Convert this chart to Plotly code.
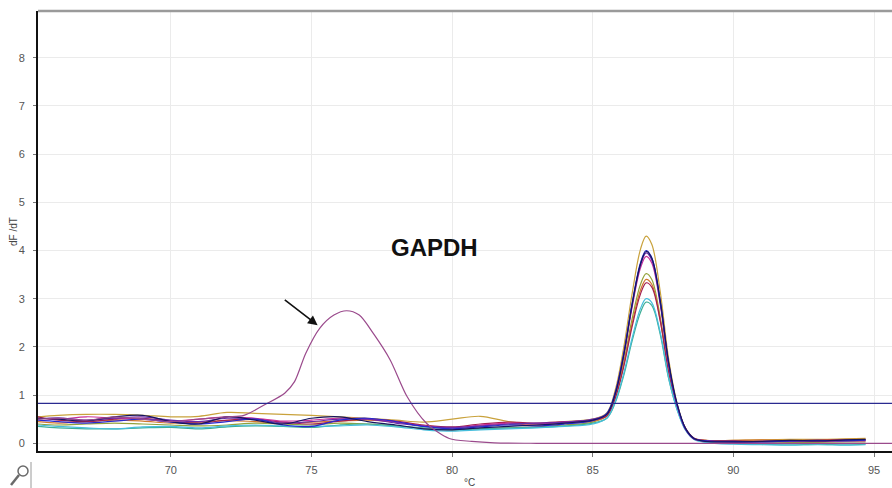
import plotly.graph_objects as go

# Melt-curve derivative data (dF/dT vs temperature, °C)
temps = [65.28, 66, 67, 68, 69, 70, 71, 72, 73, 74, 75, 76, 77, 78, 79, 80, 81, 82, 83, 84, 85,
         85.5, 85.8, 86.1, 86.4, 86.7, 86.9, 87.1, 87.4, 87.7, 88.0, 88.3, 88.6, 89.0,
         90, 91, 92, 93, 94, 94.7]

gold = [0.55, 0.58, 0.60, 0.60, 0.58, 0.55, 0.56, 0.64, 0.62, 0.60, 0.58, 0.55, 0.52, 0.48, 0.44, 0.50, 0.56, 0.45, 0.40, 0.45, 0.50,
        0.63, 1.10, 1.98, 3.10, 4.03, 4.30, 4.13, 3.15, 1.75, 0.83, 0.31, 0.10, 0.06,
        0.06, 0.07, 0.08, 0.08, 0.09, 0.10]
blue = [0.48, 0.45, 0.42, 0.46, 0.50, 0.44, 0.40, 0.45, 0.50, 0.38, 0.35, 0.48, 0.52, 0.45, 0.35, 0.30, 0.34, 0.38, 0.36, 0.40, 0.47,
        0.62, 1.05, 1.85, 2.90, 3.75, 4.00, 3.85, 2.95, 1.65, 0.80, 0.30, 0.10, 0.05,
        0.04, 0.03, 0.05, 0.06, 0.05, 0.07]
navy = [0.52, 0.50, 0.47, 0.55, 0.58, 0.45, 0.40, 0.55, 0.48, 0.40, 0.52, 0.55, 0.45, 0.38, 0.30, 0.28, 0.32, 0.35, 0.38, 0.42, 0.48,
        0.60, 1.02, 1.82, 2.88, 3.72, 3.98, 3.84, 2.96, 1.68, 0.82, 0.31, 0.10, 0.04,
        0.03, 0.04, 0.06, 0.05, 0.07, 0.08]
violet = [0.50, 0.53, 0.48, 0.52, 0.55, 0.48, 0.45, 0.52, 0.50, 0.42, 0.45, 0.50, 0.50, 0.42, 0.35, 0.33, 0.36, 0.40, 0.42, 0.44, 0.50,
          0.61, 1.04, 1.84, 2.86, 3.70, 3.95, 3.80, 2.92, 1.64, 0.79, 0.29, 0.09, 0.05,
          0.02, 0.03, 0.04, 0.05, 0.06, 0.06]
olive = [0.40, 0.38, 0.40, 0.42, 0.40, 0.38, 0.36, 0.38, 0.42, 0.40, 0.38, 0.42, 0.40, 0.36, 0.30, 0.28, 0.30, 0.32, 0.34, 0.38, 0.44,
         0.58, 0.98, 1.68, 2.58, 3.30, 3.52, 3.40, 2.62, 1.50, 0.75, 0.29, 0.09, 0.05,
         0.04, 0.03, 0.02, 0.02, 0.03, 0.03]
orange = [0.45, 0.42, 0.45, 0.48, 0.46, 0.42, 0.44, 0.47, 0.45, 0.42, 0.44, 0.46, 0.48, 0.44, 0.36, 0.30, 0.36, 0.40, 0.38, 0.42, 0.46,
          0.56, 0.94, 1.62, 2.48, 3.18, 3.40, 3.30, 2.56, 1.48, 0.76, 0.30, 0.10, 0.06,
          0.06, 0.07, 0.06, 0.07, 0.08, 0.08]
maroon = [0.55, 0.48, 0.45, 0.50, 0.52, 0.46, 0.42, 0.48, 0.50, 0.44, 0.40, 0.46, 0.50, 0.46, 0.38, 0.34, 0.40, 0.44, 0.42, 0.45, 0.48,
          0.57, 0.93, 1.58, 2.42, 3.10, 3.33, 3.24, 2.54, 1.48, 0.77, 0.31, 0.11, 0.06,
          0.05, 0.04, 0.05, 0.06, 0.07, 0.07]
teal = [0.35, 0.32, 0.30, 0.30, 0.32, 0.33, 0.30, 0.34, 0.36, 0.35, 0.33, 0.38, 0.40, 0.36, 0.32, 0.28, 0.30, 0.32, 0.33, 0.36, 0.42,
        0.52, 0.84, 1.40, 2.12, 2.72, 2.93, 2.86, 2.26, 1.34, 0.70, 0.28, 0.09, 0.03,
        0.00, -0.02, -0.03, -0.02, -0.03, -0.02]
cyan = [0.38, 0.35, 0.32, 0.30, 0.34, 0.35, 0.32, 0.36, 0.38, 0.36, 0.35, 0.36, 0.38, 0.34, 0.28, 0.25, 0.28, 0.30, 0.32, 0.35, 0.40,
        0.52, 0.86, 1.44, 2.18, 2.80, 3.00, 2.92, 2.30, 1.36, 0.70, 0.27, 0.08, 0.02,
        -0.02, -0.03, -0.04, -0.03, -0.04, -0.03]
magenta = [0.52, 0.50, 0.55, 0.52, 0.50, 0.46, 0.50, 0.55, 0.52, 0.46, 0.48, 0.52, 0.50, 0.44, 0.36, 0.32, 0.38, 0.42, 0.40, 0.44, 0.48,
           0.60, 1.01, 1.80, 2.82, 3.64, 3.88, 3.74, 2.88, 1.62, 0.78, 0.29, 0.09, 0.05,
           0.03, 0.04, 0.05, 0.04, 0.05, 0.05]

# Sample with the low-temperature (non-specific) product peak
ns_temps = [65.28, 66, 67, 68, 69, 70, 71, 72, 72.6, 73.4, 74.05, 74.4, 74.8, 75.3, 75.8, 76.25, 76.7,
            77.2, 77.8, 78.4, 79.1, 79.9, 80.7, 81.5, 83, 85, 87, 89, 91, 93, 95.64]
ns_vals = [0.50, 0.52, 0.48, 0.55, 0.50, 0.45, 0.50, 0.55, 0.58, 0.82, 1.04, 1.28, 1.87, 2.39, 2.66, 2.75, 2.66,
           2.28, 1.73, 0.97, 0.41, 0.10, 0.04, 0.01, 0.00, 0.00, 0.00, 0.00, 0.00, 0.00, 0.00]

threshold = 0.83

series = [
    ("gold", gold, "#c9a23c"),
    ("olive", olive, "#93a23a"),
    ("orange", orange, "#d2782e"),
    ("maroon", maroon, "#a3204e"),
    ("teal", teal, "#3fae96"),
    ("cyan", cyan, "#45bedc"),
    ("magenta", magenta, "#c8309a"),
    ("violet", violet, "#6a2aa8"),
    ("blue", blue, "#2828d0"),
    ("navy", navy, "#161660"),
]

fig = go.Figure()
for name, vals, color in series:
    fig.add_trace(go.Scatter(x=temps, y=vals, mode="lines", name=name,
                             line=dict(color=color, width=1.2, shape="spline", smoothing=1.0)))

fig.add_trace(go.Scatter(x=ns_temps, y=ns_vals, mode="lines", name="non-specific",
                         line=dict(color="#9a4a8c", width=1.2, shape="spline", smoothing=0.8)))

# threshold line
fig.add_shape(type="line", xref="paper", x0=0, x1=1, yref="y", y0=threshold, y1=threshold,
              line=dict(color="#2a2a90", width=1.2))

# plot area geometry in pixels (for paper-coordinate helpers)
L, R, T, B = 38, 892, 11, 451


def px(x):
    return (x - L) / (R - L)


def py(y):
    return (B - y) / (B - T)


# top frame line
fig.add_shape(type="line", xref="paper", x0=0, x1=1, yref="paper", y0=py(11), y1=py(11),
              line=dict(color="#9a9a9a", width=2.5))

# small tool icon at the lower left
fig.add_shape(type="line", xref="paper", yref="paper", x0=px(31), x1=px(31), y0=py(462), y1=py(488),
              line=dict(color="#9a9a9a", width=1))
fig.add_shape(type="circle", xref="paper", yref="paper", x0=px(18), x1=px(28), y0=py(476), y1=py(466),
              line=dict(color="#6a6a6a", width=1.5))
fig.add_shape(type="line", xref="paper", yref="paper", x0=px(19), x1=px(11), y0=py(475), y1=py(485),
              line=dict(color="#6a6a6a", width=2.5))

fig.add_annotation(x=79.37, y=4.07, xref="x", yref="y", text="<b>GAPDH</b>", showarrow=False,
                   font=dict(family="Liberation Sans, Arial", size=24, color="#111111"))
fig.add_annotation(x=75.22, y=2.45, xref="x", yref="y", ax=74.0, ay=3.0, axref="x", ayref="y",
                   text="", showarrow=True, arrowhead=2, arrowsize=1.2, arrowwidth=1.6, arrowcolor="#111111")

fig.add_annotation(x=px(14), y=py(232), xref="paper", yref="paper", text="dF /dT", textangle=-90,
                   xanchor="center", yanchor="middle",
                   showarrow=False, font=dict(family="Liberation Sans, Arial", size=10, color="#444444"))
fig.add_annotation(x=px(469), y=py(482), xref="paper", yref="paper", text="°C",
                   xanchor="center", yanchor="middle",
                   showarrow=False, font=dict(family="Liberation Sans, Arial", size=10, color="#444444"))

fig.update_layout(
    width=892, height=488,
    margin=dict(l=L, r=892 - R, t=T, b=488 - B),
    paper_bgcolor="white", plot_bgcolor="white",
    showlegend=False,
    font=dict(family="Liberation Sans, Arial", size=11, color="#555555"),
)
fig.update_xaxes(range=[65.28, 95.64], tickvals=[70, 75, 80, 85, 90, 95],
                 showgrid=True, gridcolor="#ebebeb", gridwidth=1, zeroline=False,
                 showline=True, linecolor="#111111", linewidth=2,
                 ticks="outside", ticklen=4, tickcolor="#777777", ticklabelstandoff=4)
fig.update_yaxes(range=[-0.16, 8.97], tickvals=[0, 1, 2, 3, 4, 5, 6, 7, 8],
                 showgrid=True, gridcolor="#ebebeb", gridwidth=1, zeroline=False,
                 showline=True, linecolor="#111111", linewidth=2,
                 ticks="outside", ticklen=3, tickcolor="#777777", ticklabelstandoff=6)

fig.write_html("out.html")
